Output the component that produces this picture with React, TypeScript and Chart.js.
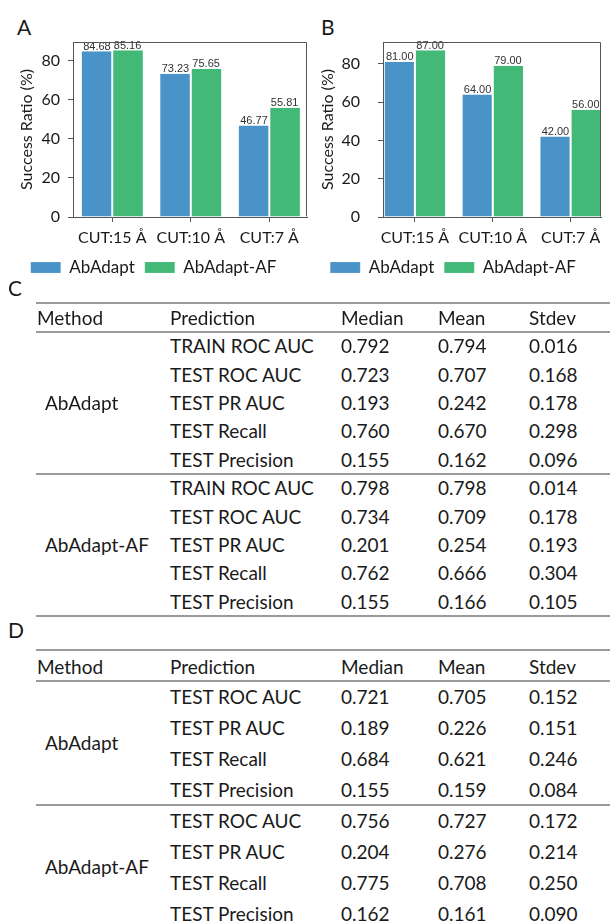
import React, { useEffect, useRef } from "react";
import { Chart, registerables } from "chart.js";
Chart.register(...registerables);

// ---------- data ----------
const categories = ["CUT:15 Å", "CUT:10 Å", "CUT:7 Å"];
const seriesNames = ["AbAdapt", "AbAdapt-AF"];
const panelA_AbAdapt = [84.68, 73.23, 46.77];
const panelA_AbAdaptAF = [85.16, 75.65, 55.81];
const panelB_AbAdapt = [81.0, 64.0, 42.0];
const panelB_AbAdaptAF = [87.0, 79.0, 56.0];
const yTickValues = [0, 20, 40, 60, 80];
const yAxisTitle = "Success Ratio (%)";

const tableHeaders = ["Method", "Prediction", "Median", "Mean", "Stdev"];
const methods = ["AbAdapt", "AbAdapt-AF"];

const predictionsC = ["TRAIN ROC AUC", "TEST ROC AUC", "TEST PR AUC", "TEST Recall", "TEST Precision"];
const C_AbAdapt_median = [0.792, 0.723, 0.193, 0.76, 0.155];
const C_AbAdapt_mean = [0.794, 0.707, 0.242, 0.67, 0.162];
const C_AbAdapt_stdev = [0.016, 0.168, 0.178, 0.298, 0.096];
const C_AF_median = [0.798, 0.734, 0.201, 0.762, 0.155];
const C_AF_mean = [0.798, 0.709, 0.254, 0.666, 0.166];
const C_AF_stdev = [0.014, 0.178, 0.193, 0.304, 0.105];

const predictionsD = ["TEST ROC AUC", "TEST PR AUC", "TEST Recall", "TEST Precision"];
const D_AbAdapt_median = [0.721, 0.189, 0.684, 0.155];
const D_AbAdapt_mean = [0.705, 0.226, 0.621, 0.159];
const D_AbAdapt_stdev = [0.152, 0.151, 0.246, 0.084];
const D_AF_median = [0.756, 0.204, 0.775, 0.162];
const D_AF_mean = [0.727, 0.276, 0.708, 0.161];
const D_AF_stdev = [0.172, 0.214, 0.25, 0.09];

// ---------- styles ----------
const FONT = 'Lato, "Noto Sans", sans-serif';
const BLUE = "#4a93c8";
const GREEN = "#43b977";
const AXIS = "#555555";
const TEXT = "#1a1a1a";

const framePlugin = {
  id: "frame",
  afterDraw(chart: any) {
    const { ctx, chartArea: ca } = chart;
    ctx.save();
    ctx.strokeStyle = AXIS;
    ctx.lineWidth = 1;
    ctx.beginPath();
    const l = Math.round(ca.left) + 0.5;
    const r = Math.round(ca.right) - 0.5;
    const t = Math.round(ca.top) + 0.5;
    const b = Math.round(ca.bottom) - 0.5;
    ctx.moveTo(l, b);
    ctx.lineTo(l, t);
    ctx.lineTo(r, t);
    ctx.lineTo(r, b);
    ctx.stroke();
    ctx.restore();
  },
};

const valueLabelPlugin = {
  id: "valueLabels",
  afterDatasetsDraw(chart: any) {
    const { ctx } = chart;
    ctx.save();
    ctx.font = '11px "Liberation Sans", Arial, sans-serif';
    ctx.fillStyle = "#333333";
    ctx.textAlign = "center";
    ctx.textBaseline = "bottom";
    chart.data.datasets.forEach((ds: any, i: number) => {
      const meta = chart.getDatasetMeta(i);
      meta.data.forEach((bar: any, j: number) => {
        const v = ds.data[j].y as number;
        ctx.fillText(v.toFixed(2), bar.x, bar.y + 1);
      });
    });
    ctx.restore();
  },
};

type PanelProps = {
  s1: number[];
  s2: number[];
  yMax: number;
  xMin: number;
  xMax: number;
  left: number;
  width: number;
  axisWidth: number;
  tickPad: number;
  titlePad: number;
  padRight: number;
};

function BarPanel(p: PanelProps) {
  const ref = useRef<HTMLCanvasElement>(null);
  useEffect(() => {
    const chart = new Chart(ref.current as HTMLCanvasElement, {
      type: "bar",
      data: {
        datasets: [
          {
            label: seriesNames[0],
            data: p.s1.map((y, i) => ({ x: i, y })),
            backgroundColor: BLUE,
            borderColor: "rgba(255,255,255,0.55)",
            borderWidth: { left: 0, right: 1, top: 0, bottom: 0 },
            borderSkipped: false,
          },
          {
            label: seriesNames[1],
            data: p.s2.map((y, i) => ({ x: i, y })),
            backgroundColor: GREEN,
            borderColor: "rgba(255,255,255,0.55)",
            borderWidth: { left: 1, right: 0, top: 0, bottom: 0 },
            borderSkipped: false,
          },
        ],
      } as any,
      options: {
        responsive: false,
        animation: false,
        maintainAspectRatio: false,
        layout: { padding: { top: 42, right: p.padRight, left: 0, bottom: 0 } },
        datasets: { bar: { categoryPercentage: 0.78, barPercentage: 1 } } as any,
        plugins: {
          tooltip: { enabled: false },
          legend: {
            position: "bottom",
            labels: {
              boxWidth: 30,
              boxHeight: 11,
              padding: 10,
              color: TEXT,
              font: { family: FONT, size: 17 },
            },
          },
        },
        scales: {
          x: {
            type: "linear",
            offset: false,
            min: p.xMin,
            max: p.xMax,
            afterBuildTicks: (s: any) => {
              s.ticks = categories.map((_, i) => ({ value: i }));
            },
            afterFit: (s: any) => {
              s.height = 32;
            },
            ticks: {
              autoSkip: false,
              maxRotation: 0,
              padding: 6,
              color: TEXT,
              font: { family: FONT, size: 16 },
              callback: (v: any) => categories[Math.round(Number(v))] ?? "",
            },
            grid: { offset: false, drawOnChartArea: false, drawTicks: true, tickLength: 5, color: AXIS },
            border: { color: AXIS },
          },
          y: {
            min: 0,
            max: p.yMax,
            afterBuildTicks: (s: any) => {
              s.ticks = yTickValues.map((v) => ({ value: v }));
            },
            afterFit: (s: any) => {
              s.width = p.axisWidth;
            },
            ticks: {
              padding: p.tickPad,
              color: TEXT,
              font: { family: FONT, size: 16 },
            },
            grid: { drawOnChartArea: false, drawTicks: true, tickLength: 5, color: AXIS },
            border: { color: AXIS },
            title: {
              display: true,
              text: yAxisTitle,
              color: TEXT,
              font: { family: FONT, size: 16 },
              padding: { top: p.titlePad, bottom: 0 },
            },
          },
        },
      } as any,
      plugins: [framePlugin, valueLabelPlugin],
    });
    return () => chart.destroy();
  }, []);
  return (
    <canvas
      ref={ref}
      width={p.width}
      height={286}
      style={{ position: "absolute", left: p.left, top: 0, width: p.width, height: 286 }}
    />
  );
}

// ---------- tables ----------
const fmt = (v: number) => v.toFixed(3);
const COLS = [37, 170, 341, 438, 529];
const TFONT = 19;
const LH = 24;

function Txt({ x, y, children, size = TFONT }: { x: number; y: number; children: any; size?: number }) {
  return (
    <div
      style={{
        position: "absolute",
        left: x,
        top: y - LH / 2,
        height: LH,
        lineHeight: LH + "px",
        fontFamily: FONT,
        fontSize: size,
        color: TEXT,
        whiteSpace: "nowrap",
      }}
    >
      {children}
    </div>
  );
}

function HLine({ y }: { y: number }) {
  return (
    <div style={{ position: "absolute", left: 36, width: 574, top: y - 1, height: 2, background: "#9a9a9a" }} />
  );
}

type Group = { method: string; preds: string[]; med: number[]; mean: number[]; sd: number[] };

function Table(props: {
  letter: string;
  letterY: number;
  top: number;
  headerY: number;
  headerLine: number;
  rowH1: number;
  rowH2: number;
  groups: Group[];
}) {
  const { letter, letterY, top, headerY, headerLine, rowH1, rowH2, groups } = props;
  const out: any[] = [];
  out.push(
    <Txt key="L" x={8} y={letterY} size={21}>
      {letter}
    </Txt>
  );
  out.push(<HLine key="t" y={top} />);
  tableHeaders.forEach((h, i) =>
    out.push(
      <Txt key={"h" + i} x={COLS[i]} y={headerY}>
        {h}
      </Txt>
    )
  );
  out.push(<HLine key="hl" y={headerLine} />);
  let y0 = headerLine;
  groups.forEach((g, gi) => {
    const rh = gi === 0 ? rowH1 : rowH2;
    const n = g.preds.length;
    out.push(
      <Txt key={"m" + gi} x={45} y={y0 + (n * rh) / 2}>
        {g.method}
      </Txt>
    );
    g.preds.forEach((pr, ri) => {
      const cy = y0 + rh / 2 + ri * rh;
      out.push(
        <Txt key={`p${gi}-${ri}`} x={COLS[1]} y={cy}>
          {pr}
        </Txt>
      );
      out.push(
        <Txt key={`a${gi}-${ri}`} x={COLS[2]} y={cy}>
          {fmt(g.med[ri])}
        </Txt>
      );
      out.push(
        <Txt key={`b${gi}-${ri}`} x={COLS[3]} y={cy}>
          {fmt(g.mean[ri])}
        </Txt>
      );
      out.push(
        <Txt key={`c${gi}-${ri}`} x={COLS[4]} y={cy}>
          {fmt(g.sd[ri])}
        </Txt>
      );
    });
    y0 += n * rh;
    out.push(<HLine key={"s" + gi} y={y0} />);
  });
  return <>{out}</>;
}

export default function App() {
  return (
    <div style={{ position: "absolute", left: 0, top: 0, width: 610, height: 921, background: "#fff", overflow: "hidden" }}>
      <Txt x={17} y={27} size={21}>
        A
      </Txt>
      <Txt x={321} y={27} size={21}>
        B
      </Txt>
      <BarPanel
        s1={panelA_AbAdapt}
        s2={panelA_AbAdaptAF}
        yMax={89.4}
        xMin={-0.5}
        xMax={2.48}
        left={0}
        width={378}
        axisWidth={73}
        tickPad={8}
        titlePad={17.4}
        padRight={71}
      />
      <BarPanel
        s1={panelB_AbAdapt}
        s2={panelB_AbAdaptAF}
        yMax={91.35}
        xMin={-0.41}
        xMax={2.39}
        left={305}
        width={357}
        axisWidth={78}
        tickPad={18}
        titlePad={13.4}
        padRight={61}
      />
      <Table
        letter="C"
        letterY={288}
        top={303}
        headerY={318}
        headerLine={332}
        rowH1={28.4}
        rowH2={28.4}
        groups={[
          { method: methods[0], preds: predictionsC, med: C_AbAdapt_median, mean: C_AbAdapt_mean, sd: C_AbAdapt_stdev },
          { method: methods[1], preds: predictionsC, med: C_AF_median, mean: C_AF_mean, sd: C_AF_stdev },
        ]}
      />
      <Table
        letter="D"
        letterY={630}
        top={650}
        headerY={667}
        headerLine={681}
        rowH1={31}
        rowH2={31}
        groups={[
          { method: methods[0], preds: predictionsD, med: D_AbAdapt_median, mean: D_AbAdapt_mean, sd: D_AbAdapt_stdev },
          { method: methods[1], preds: predictionsD, med: D_AF_median, mean: D_AF_mean, sd: D_AF_stdev },
        ]}
      />
    </div>
  );
}
